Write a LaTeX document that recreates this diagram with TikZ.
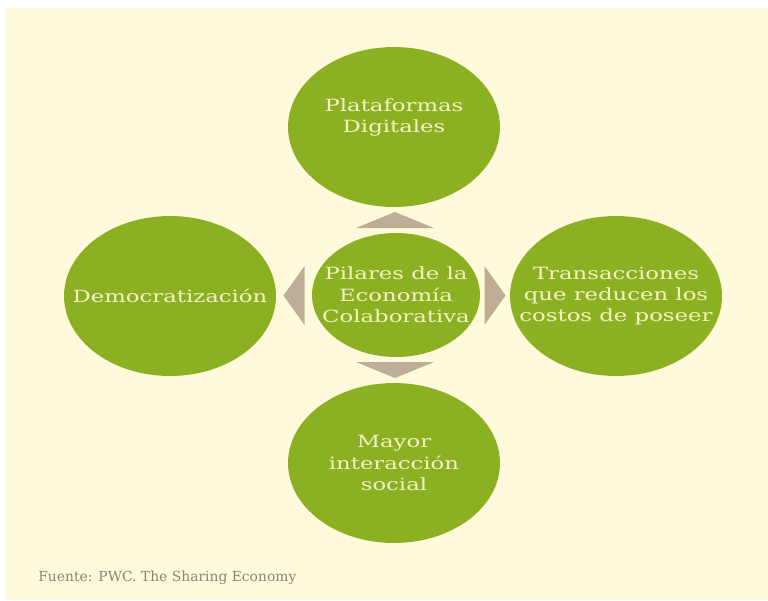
\documentclass[tikz,border=0pt]{standalone}
\usepackage{fontspec}
\setmainfont[FakeStretch=1.35]{DejaVu Serif}
\newfontfamily\fuentefont{DejaVu Serif}
\usetikzlibrary{shapes.geometric,calc}
\definecolor{fondo}{HTML}{FFFADC}
\definecolor{verde}{HTML}{8BB122}
\definecolor{gris}{HTML}{BEAD97}
\definecolor{letra}{HTML}{F4F2C2}
\definecolor{fuente}{HTML}{8C8474}
\newcommand{\pilar}[5][]{\node[pilar,#1] (#2) at (#3,#4) {#5};}
\newcommand{\flechav}[2]{\fill[gris, shift={(#1)}, yscale=#2] (-39,8) -- (0,-8) -- (39,8) -- cycle;}
\newcommand{\flechah}[2]{\fill[gris, shift={(#1)}, xscale=#2] (10.5,-29.5) -- (-10.5,0) -- (10.5,29.5) -- cycle;}
\tikzset{
  pilar/.style={ellipse, fill=verde, text=letra, align=center, inner xsep=-1.5cm, inner ysep=0pt,
    minimum width=4.24cm, minimum height=3.2cm, font=\fontsize{9.6}{12.2}\selectfont},
  centro/.style={pilar, minimum width=3.36cm, minimum height=2.48cm}
}

\begin{document}
\begin{tikzpicture}[x=0.02cm, y=-0.02cm]
    \useasboundingbox (0,0) rectangle (768,600);
    \fill[white] (0,0) rectangle (768,600);
    \fill[fondo] (6,8) rectangle (768,600);
    \node[centro] (pilares) at (396,295) {Pilares de la\\Economía\\Colaborativa};
    \pilar[text depth=0.45cm]{plat}{394}{127}{Plataformas\\Digitales}
    \pilar{demo}{170}{296}{Democratización}
    \pilar{trans}{616}{296}{Transacciones\\que reducen los\\costos de poseer}
    \pilar{mayor}{394}{463}{Mayor\\interacción\\social}
    \coordinate (fa) at ($(pilares.north)!0.5!(plat.south)$);
    \coordinate (fb) at ($(pilares.south)!0.5!(mayor.north)$);
    \coordinate (fi) at ($(pilares.west)!0.5!(demo.east)$);
    \coordinate (fd) at ($(pilares.east)!0.5!(trans.west)$);
    \flechav{fa}{1}
    \flechav{fb}{-1}
    \flechah{fi}{1}
    \flechah{fd}{-1}
    \node[anchor=base west, inner sep=0pt, text=fuente, font=\fuentefont\fontsize{7.9}{9}\selectfont] (nota) at (38,581) {Fuente: PWC. The Sharing Economy};
\end{tikzpicture}
\end{document}
